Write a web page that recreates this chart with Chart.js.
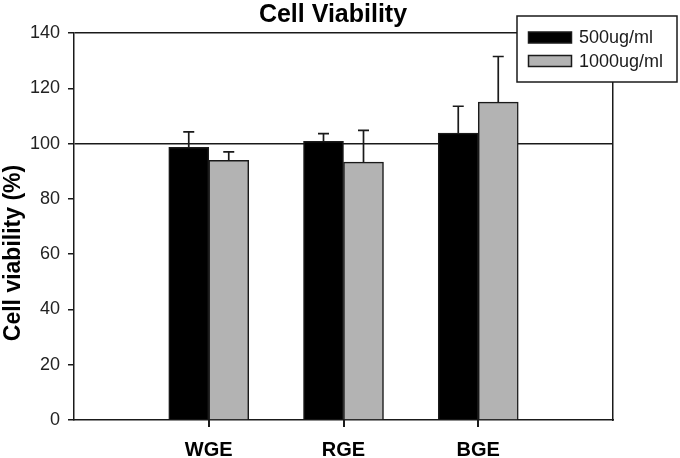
<!DOCTYPE html>
<html>
<head>
<meta charset="utf-8">
<script src="https://cdn.jsdelivr.net/npm/chart.js@4"></script>
<style>
  html, body { margin: 0; padding: 0; background: #fff; }
  #wrap { width: 680px; height: 458px; }
</style>
</head>
<body>
<div id="wrap"><canvas id="viabilityChart" width="680" height="458"></canvas></div>
<script>
// Data (empty slots at both ends keep the groups spaced like the original)
const categories = ['', 'WGE', 'RGE', 'BGE', ''];
const seriesNames = ['500ug/ml', '1000ug/ml'];
const viability500 = [null, 98.6, 100.8, 103.8, null];
const viability1000 = [null, 93.9, 93.3, 115.0, null];
const error500 = [null, 5.6, 2.8, 9.7, null];
const error1000 = [null, 3.1, 11.5, 16.5, null];
const yTicks = [0, 20, 40, 60, 80, 100, 120, 140];

const ink = '#1a1a1a';
Chart.defaults.font.family = "'Liberation Sans', Arial, sans-serif";

// Error bars on top of each bar (upper half only, like SigmaPlot)
const errorBars = {
    id: 'errorBars',
    afterDatasetsDraw(chart) {
        const ctx = chart.ctx;
        const y = chart.scales.y;
        ctx.save();
        ctx.strokeStyle = ink;
        ctx.lineWidth = 1.7;
        chart.data.datasets.forEach((ds, i) => {
            chart.getDatasetMeta(i).data.forEach((bar, j) => {
                const err = ds.errors[j];
                if (err == null || ds.data[j] == null) return;
                const top = y.getPixelForValue(ds.data[j] + err);
                ctx.beginPath();
                ctx.moveTo(bar.x, bar.y);
                ctx.lineTo(bar.x, top);
                ctx.moveTo(bar.x - 5.5, top);
                ctx.lineTo(bar.x + 5.5, top);
                ctx.stroke();
            });
        });
        ctx.restore();
    }
};

// Tick marks under the named groups only (centre of each bar pair)
const groupTicks = {
    id: 'groupTicks',
    afterDraw(chart) {
        const ctx = chart.ctx;
        const meta = chart.getDatasetMeta(1);
        const base = chart.chartArea.bottom;
        ctx.save();
        ctx.fillStyle = ink;
        meta.data.forEach((bar, j) => {
            if (!categories[j] || !isFinite(bar.x)) return;
            const px = Math.round(bar.x - bar.width / 2);
            ctx.fillRect(px - 1, base, 2, 7);
        });
        ctx.restore();
    }
};

// Boxed legend in the top right corner, over the frame
const boxLegend = {
    id: 'boxLegend',
    afterDraw(chart) {
        const ctx = chart.ctx;
        ctx.save();
        ctx.fillStyle = '#fff';
        ctx.strokeStyle = ink;
        ctx.lineWidth = 1.5;
        ctx.fillRect(517, 16, 160, 66);
        ctx.strokeRect(517, 16, 160, 66);
        ctx.font = "18px 'Liberation Sans', Arial, sans-serif";
        ctx.textBaseline = 'alphabetic';
        chart.data.datasets.forEach((ds, i) => {
            const top = 32 + i * 23.5;
            ctx.fillStyle = ds.backgroundColor;
            ctx.fillRect(528.5, top, 43, 11);
            ctx.lineWidth = 1.5;
            ctx.strokeRect(528.5, top, 43, 11);
            ctx.fillStyle = ink;
            ctx.fillText(ds.label, 579, top + 11);
        });
        ctx.restore();
    }
};

// Y axis title, drawn a bit below the middle as in the original
const yTitle = {
    id: 'yTitle',
    afterDraw(chart) {
        const ctx = chart.ctx;
        ctx.save();
        ctx.translate(14, 253);
        ctx.rotate(-Math.PI / 2);
        ctx.font = "bold 23px 'Liberation Sans', Arial, sans-serif";
        ctx.fillStyle = '#000';
        ctx.textAlign = 'center';
        ctx.textBaseline = 'middle';
        ctx.fillText('Cell viability (%)', 0, 0);
        ctx.restore();
    }
};

new Chart(document.getElementById('viabilityChart'), {
    type: 'bar',
    data: {
        labels: categories,
        datasets: [
            {
                label: seriesNames[0],
                data: viability500,
                errors: error500,
                backgroundColor: '#000000',
                borderColor: ink,
                borderWidth: 1.5
            },
            {
                label: seriesNames[1],
                data: viability1000,
                errors: error1000,
                backgroundColor: '#b3b3b3',
                borderColor: ink,
                borderWidth: 1.5
            }
        ]
    },
    options: {
        responsive: false,
        animation: false,
        barThickness: 40,
        layout: { padding: { left: 0, right: 14, top: 0, bottom: 0 } },
        plugins: {
            legend: { display: false },
            tooltip: { enabled: false },
            title: {
                display: true,
                text: 'Cell Viability',
                color: '#000',
                font: { size: 25, weight: 'bold' },
                padding: { top: 0, bottom: 3 }
            }
        },
        scales: {
            x: {
                offset: false,
                grid: { offset: false, drawOnChartArea: false, drawTicks: true, tickLength: 7, tickColor: 'rgba(0,0,0,0)' },
                border: { display: true, color: ink, width: 1.5 },
                ticks: {
                    autoSkip: false,
                    maxRotation: 0,
                    color: '#000',
                    padding: 11,
                    font: { size: 20, weight: 'bold' }
                },
                afterFit: s => { s.height = 38; }
            },
            y: {
                min: 0,
                max: 140,
                z: 1,
                afterBuildTicks: s => { s.ticks = yTicks.map(v => ({ value: v })); },
                grid: {
                    lineWidth: 1.5,
                    tickLength: 6,
                    tickColor: ink,
                    color: c => (c.tick && (c.tick.value === 100 || c.tick.value === 140)) ? ink : 'rgba(0,0,0,0)'
                },
                border: { color: ink, width: 1.5 },
                ticks: { color: '#222', padding: 8, font: { size: 18 } },
                afterFit: s => { s.width = 74; }
            },
            y2: {
                position: 'right',
                min: 0,
                max: 140,
                grid: { drawOnChartArea: false, drawTicks: false },
                border: { color: ink, width: 1.5 },
                ticks: { display: false },
                afterFit: s => { s.width = 53; }
            }
        }
    },
    plugins: [errorBars, groupTicks, boxLegend, yTitle]
});
</script>
</body>
</html>
